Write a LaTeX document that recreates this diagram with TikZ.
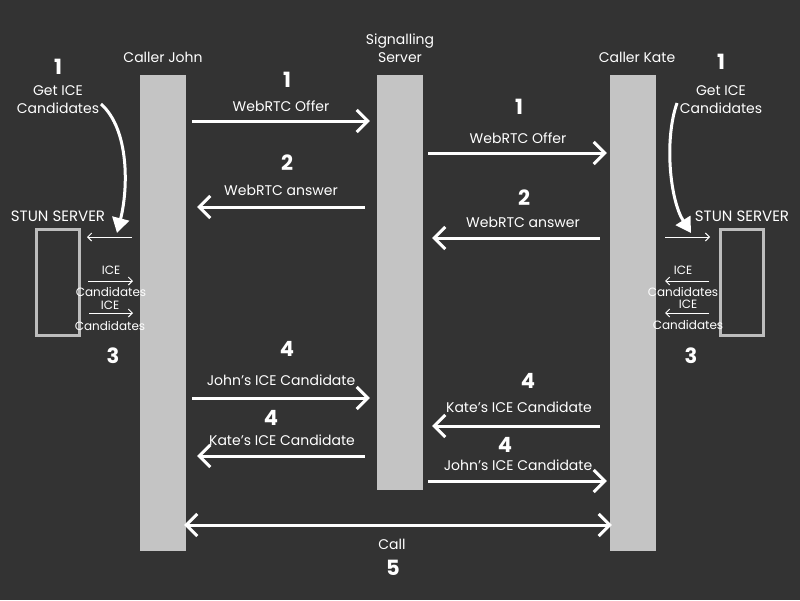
\documentclass[tikz,border=0pt]{standalone}
\usepackage{fontspec}
\setmainfont{Poppins}
\usetikzlibrary{arrows.meta,calc}
\definecolor{bg}{HTML}{333333}
\definecolor{barc}{HTML}{C4C4C4}
\definecolor{boxc}{HTML}{BDBDBD}
\tikzset{
  bar/.style={fill=barc,draw=none,minimum width=46pt,inner sep=0pt},
  lbl/.style={text=white,font=\fontsize{14}{18}\selectfont,inner sep=0pt,align=center},
  stl/.style={text=white,font=\fontsize{15}{18}\selectfont,inner sep=0pt,align=center},
  slbl/.style={text=white,font=\fontsize{12}{14}\selectfont,inner sep=0pt,align=center},
  num/.style={text=white,font=\fontsize{21}{24}\bfseries\selectfont,inner sep=0pt},
  arr/.style={draw=white,line width=3pt,-{Straight Barb[length=11pt,width=22pt,line width=3pt]}},
  darr/.style={draw=white,line width=3pt,{Straight Barb[length=11pt,width=22pt,line width=3pt]}-{Straight Barb[length=11pt,width=22pt,line width=3pt]}},
  tarr/.style={draw=white,line width=1pt,-{Straight Barb[length=4pt,width=8pt,line width=1pt]}},
  carr/.style={draw=white,line width=3pt,-{Triangle[length=15pt,width=17pt]}},
  stun/.style={draw=boxc,line width=3pt,minimum width=43pt,minimum height=106pt,inner sep=0pt}
}
\begin{document}
\begin{tikzpicture}[x=1pt,y=-1pt]
\fill[bg] (0,0) rectangle (800,600);
\useasboundingbox (0,0) rectangle (800,600);
% bars
\node[bar,minimum height=476pt] (john) at (163,313) {};
\node[bar,minimum height=415pt] (srv) at (400,282.5) {};
\node[bar,minimum height=476pt] (kate) at (633,313) {};
% titles
\node[lbl] (tj) at (163,57) {Caller John};
\node[lbl] (ts) at (400,48) {Signalling\\Server};
\node[lbl] (tk) at (637,57) {Caller Kate};
% step 1 / 2 left
\node[num] (n1a) at (287,80) {1};
\node[lbl] (l1a) at (281,106) {WebRTC Offer};
\draw[arr] ([xshift=6pt]john.east |- 0,121) -- ([xshift=-7pt]srv.west |- 0,121);
\node[num] (n2a) at (287,163) {2};
\node[lbl] (l2a) at (281,190) {WebRTC answer};
\draw[arr] ([xshift=-12pt]srv.west |- 0,207) -- ([xshift=11pt]john.east |- 0,207);
% step 1 / 2 right
\node[num] (n1b) at (519,107) {1};
\node[lbl] (l1b) at (518,138) {WebRTC Offer};
\draw[arr] ([xshift=5pt]srv.east |- 0,153) -- ([xshift=-3pt]kate.west |- 0,153);
\node[num] (n2b) at (524,198) {2};
\node[lbl] (l2b) at (523,222) {WebRTC answer};
\draw[arr] ([xshift=-10pt]kate.west |- 0,238) -- ([xshift=9pt]srv.east |- 0,238);
% step 4 left
\node[num] (n4a) at (287,349) {4};
\node[lbl] (l4a) at (281,380) {John’s ICE Candidate};
\draw[arr] ([xshift=6pt]john.east |- 0,398) -- ([xshift=-7pt]srv.west |- 0,398);
\node[num] (n4b) at (271,418) {4};
\node[lbl] (l4b) at (282,440) {Kate’s ICE Candidate};
\draw[arr] ([xshift=-12pt]srv.west |- 0,456) -- ([xshift=11pt]john.east |- 0,456);
% step 4 right
\node[num] (n4c) at (528,381) {4};
\node[lbl] (l4c) at (519,407) {Kate’s ICE Candidate};
\draw[arr] ([xshift=-10pt]kate.west |- 0,426) -- ([xshift=9pt]srv.east |- 0,426);
\node[num] (n4d) at (505,445) {4};
\node[lbl] (l4d) at (518,465) {John’s ICE Candidate};
\draw[arr] ([xshift=5pt]srv.east |- 0,481) -- ([xshift=-3pt]kate.west |- 0,481);
% call
\draw[darr] ([xshift=-2pt]john.east |- 0,525) -- ([xshift=2pt]kate.west |- 0,525);
\node[lbl] (lc) at (392,544) {Call};
\node[num] (n5) at (393,568) {5};
% left STUN
\node[num] (n1l) at (58,67) {1};
\node[lbl] (gl) at (58,100) {Get ICE\\Candidates};
\node[stl] (sl) at (58,216) {STUN SERVER};
\node[stun] (bl) at (58,282.5) {};
\coordinate (cl1) at (101,104);
\coordinate (cl2) at (117,233);
\draw[carr] (cl1) .. controls (130,130) and (128,190) .. (cl2);
\draw[tarr] ([xshift=51pt]bl.east |- 0,237) -- ([xshift=6pt]bl.east |- 0,237);
\node[slbl] (il1) at (111,270) {ICE};
\node[slbl] (cl1t) at (111,292) {Candidates};
\draw[tarr] ([xshift=7pt]bl.east |- 0,281) -- ([xshift=52pt]bl.east |- 0,281);
\node[slbl] (il2) at (110,305) {ICE};
\node[slbl] (cl2t) at (110,326) {Candidates};
\draw[tarr] ([xshift=8pt]bl.east |- 0,313) -- ([xshift=52pt]bl.east |- 0,313);
\node[num] (n3l) at (113,356) {3};
% right STUN
\node[num] (n1r) at (721,62) {1};
\node[lbl] (gr) at (721,100) {Get ICE\\Candidates};
\node[stl] (sr) at (742,216) {STUN SERVER};
\node[stun] (br) at (742,282.5) {};
\coordinate (cr1) at (677,103);
\coordinate (cr2) at (691,233);
\draw[carr] (cr1) .. controls (664,140) and (670,200) .. (cr2);
\draw[tarr] ([xshift=-54pt]br.west |- 0,237) -- ([xshift=-9pt]br.west |- 0,237);
\node[slbl] (ir1) at (683,270) {ICE};
\node[slbl] (cr1t) at (683,292) {Candidates};
\draw[tarr] ([xshift=-10pt]br.west |- 0,281) -- ([xshift=-54pt]br.west |- 0,281);
\node[slbl] (ir2) at (688,304) {ICE};
\node[slbl] (cr2t) at (688,325) {Candidates};
\draw[tarr] ([xshift=-10pt]br.west |- 0,313) -- ([xshift=-54pt]br.west |- 0,313);
\node[num] (n3r) at (691,356) {3};
\end{tikzpicture}
\end{document}
